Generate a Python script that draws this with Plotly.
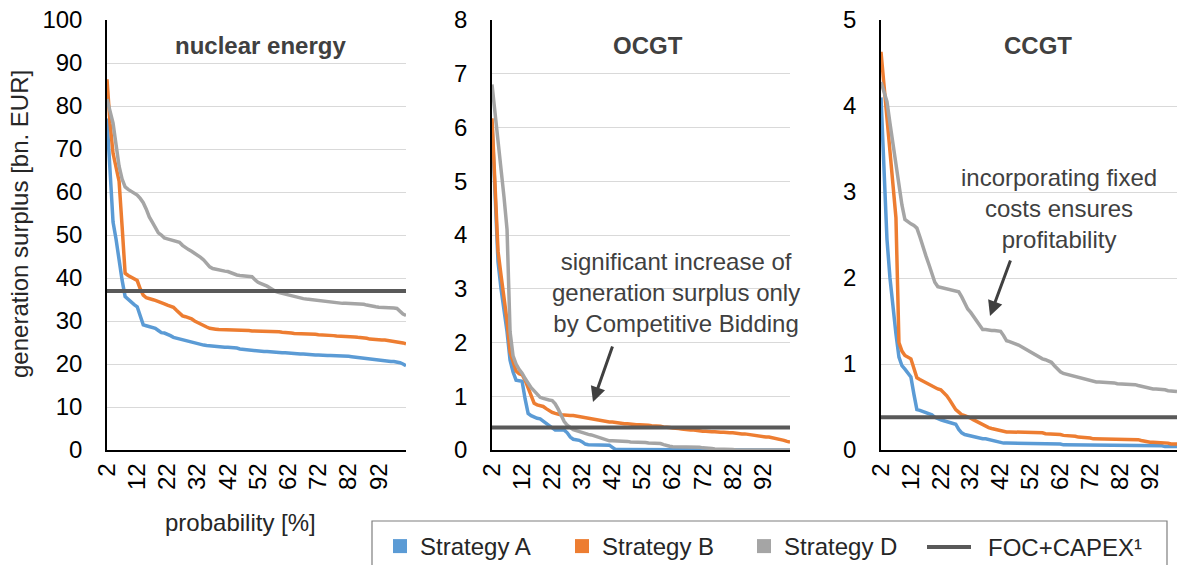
import plotly.graph_objects as go

# ---------------- data ----------------
probability = list(range(2, 102))
tick_vals = list(range(2, 93, 10))
tick_text = [str(v) for v in tick_vals]

series_names = ["Strategy A", "Strategy B", "Strategy D"]
foc_name = "FOC+CAPEX¹"
panel_titles = ["nuclear energy", "OCGT", "CCGT"]
foc_capex = [37.0, 0.42, 0.38]
y_max = [100, 8, 5]
y_step = [10, 1, 1]

nuclear_a = [
    77.1, 64.0, 53.0, 49.0, 44.0, 39.5, 35.7, 35.0, 34.4, 33.8,
    33.3, 31.0, 29.1, 28.9, 28.7, 28.5, 28.3, 27.8, 27.3, 27.2,
    27.0, 26.6, 26.2, 26.0, 25.9, 25.8, 25.5, 25.2, 25.0, 24.8,
    24.6, 24.5, 24.4, 24.3, 24.2, 24.1, 24.1, 24.0, 24.0, 23.9,
    23.9, 23.9, 23.8, 23.7, 23.5, 23.4, 23.3, 23.3, 23.2, 23.2,
    23.1, 23.0, 22.9, 22.9, 22.8, 22.8, 22.7, 22.7, 22.6, 22.6,
    22.5, 22.5, 22.4, 22.4, 22.3, 22.3, 22.2, 22.2, 22.1, 22.1,
    22.1, 22.0, 22.0, 22.0, 22.0, 22.0, 21.9, 21.9, 21.9, 21.9,
    21.8, 21.7, 21.6, 21.5, 21.4, 21.4, 21.3, 21.2, 21.1, 21.0,
    20.9, 20.9, 20.8, 20.7, 20.6, 20.6, 20.5, 20.3, 20.0, 19.6,
]
nuclear_b = [
    86.2, 76.0, 69.0, 65.5, 62.5, 52.0, 41.1, 40.6, 40.2, 39.8,
    39.4, 37.5, 36.0, 35.4, 35.1, 35.0, 34.8, 34.6, 34.3, 34.0,
    33.7, 33.4, 33.2, 32.5, 31.8, 31.2, 31.0, 30.8, 30.5, 30.0,
    29.6, 29.2, 28.9, 28.6, 28.3, 28.1, 28.1, 28.0, 28.0, 28.0,
    27.9, 27.9, 27.9, 27.9, 27.8, 27.8, 27.8, 27.8, 27.7, 27.7,
    27.7, 27.6, 27.6, 27.6, 27.5, 27.5, 27.5, 27.5, 27.4, 27.4,
    27.3, 27.2, 27.1, 27.1, 27.0, 27.0, 27.0, 26.9, 26.9, 26.9,
    26.8, 26.8, 26.7, 26.7, 26.6, 26.6, 26.5, 26.5, 26.4, 26.4,
    26.3, 26.3, 26.3, 26.2, 26.2, 26.2, 26.0, 25.8, 25.7, 25.7,
    25.6, 25.6, 25.6, 25.5, 25.5, 25.4, 25.3, 25.1, 24.9, 24.7,
]
nuclear_d = [
    81.6, 79.0, 76.0, 71.0, 66.0, 63.0, 61.2, 60.6, 60.1, 59.7,
    59.3, 58.5, 57.5, 56.0, 54.2, 53.0, 51.8, 50.5, 50.0, 49.3,
    49.1, 48.9, 48.7, 48.5, 48.3, 47.6, 47.0, 46.6, 46.2, 45.8,
    45.4, 44.8, 44.2, 43.4, 42.6, 42.2, 42.0, 41.8, 41.7, 41.6,
    41.5, 41.2, 40.9, 40.7, 40.6, 40.5, 40.4, 40.4, 40.3, 39.6,
    39.0, 38.7, 38.5, 38.1, 37.7, 37.2, 36.8, 36.6, 36.4, 36.2,
    36.0, 35.8, 35.6, 35.4, 35.3, 35.2, 35.1, 35.0, 34.9, 34.8,
    34.7, 34.6, 34.5, 34.4, 34.3, 34.3, 34.2, 34.2, 34.1, 34.1,
    34.1, 34.0, 34.0, 34.0, 33.9, 33.9, 33.7, 33.5, 33.3, 33.3,
    33.2, 33.2, 33.1, 33.1, 33.0, 33.0, 32.9, 32.3, 31.6, 31.3,
]

ocgt_a = [
    6.10, 4.60, 3.50, 3.00, 2.60, 2.20, 1.67, 1.45, 1.30, 1.29,
    1.28, 0.95, 0.68, 0.64, 0.61, 0.59, 0.58, 0.54, 0.49, 0.46,
    0.42, 0.37, 0.37, 0.37, 0.37, 0.32, 0.24, 0.20, 0.19, 0.18,
    0.15, 0.11, 0.10, 0.10, 0.10, 0.09, 0.09, 0.09, 0.09, 0.09,
    0.05, 0.01, 0.01, 0.01, 0.01, 0.01, 0.01, 0.01, 0.01, 0.01,
    0.01, 0.01, 0.01, 0.01, 0.01, 0.01, 0.01, 0.01, 0.01, 0.01,
    0.01, 0.01, 0.01, 0.01, 0.01, 0.01, 0.01, 0.01, 0.01, 0.01,
    0.01, 0.01, 0.01, 0.01, 0.01, 0.00, 0.00, 0.00, 0.00, 0.00,
    0.00, 0.00, 0.00, 0.00, 0.00, 0.00, 0.00, 0.00, 0.00, 0.00,
    0.00, 0.00, 0.00, 0.00, 0.00, 0.00, 0.00, 0.00, 0.00, 0.00,
]
ocgt_b = [
    6.17, 4.90, 3.70, 3.25, 2.85, 2.40, 1.82, 1.65, 1.47, 1.42,
    1.40, 1.30, 1.15, 1.00, 0.87, 0.84, 0.83, 0.81, 0.77, 0.73,
    0.70, 0.68, 0.66, 0.65, 0.65, 0.64, 0.64, 0.64, 0.63, 0.61,
    0.60, 0.59, 0.59, 0.58, 0.57, 0.56, 0.55, 0.54, 0.53, 0.52,
    0.52, 0.51, 0.50, 0.50, 0.49, 0.49, 0.48, 0.48, 0.47, 0.47,
    0.47, 0.46, 0.46, 0.45, 0.45, 0.45, 0.44, 0.43, 0.43, 0.42,
    0.41, 0.41, 0.40, 0.39, 0.38, 0.38, 0.37, 0.37, 0.36, 0.36,
    0.35, 0.35, 0.34, 0.34, 0.34, 0.33, 0.33, 0.33, 0.32, 0.32,
    0.32, 0.31, 0.31, 0.30, 0.30, 0.29, 0.28, 0.27, 0.26, 0.25,
    0.24, 0.24, 0.24, 0.23, 0.22, 0.21, 0.20, 0.18, 0.16, 0.15,
]
ocgt_d = [
    6.80, 6.30, 5.80, 5.20, 4.70, 4.10, 2.20, 1.75, 1.60, 1.50,
    1.43, 1.33, 1.24, 1.16, 1.10, 1.03, 0.98, 0.96, 0.94, 0.93,
    0.92, 0.86, 0.76, 0.64, 0.53, 0.46, 0.41, 0.38, 0.36, 0.34,
    0.32, 0.31, 0.29, 0.28, 0.26, 0.24, 0.22, 0.20, 0.18, 0.17,
    0.17, 0.17, 0.17, 0.17, 0.16, 0.16, 0.15, 0.15, 0.15, 0.14,
    0.14, 0.14, 0.13, 0.13, 0.13, 0.12, 0.12, 0.10, 0.08, 0.07,
    0.06, 0.06, 0.06, 0.05, 0.05, 0.05, 0.05, 0.05, 0.05, 0.05,
    0.04, 0.04, 0.03, 0.03, 0.02, 0.02, 0.01, 0.01, 0.01, 0.01,
    0.01, 0.00, 0.00, 0.00, 0.00, 0.00, 0.00, 0.00, 0.00, 0.00,
    0.00, 0.00, 0.00, 0.00, 0.00, 0.00, 0.00, 0.00, 0.00, 0.00,
]

ccgt_a = [
    4.10, 3.25, 2.45, 2.00, 1.65, 1.35, 1.08, 0.98, 0.94, 0.89,
    0.85, 0.65, 0.47, 0.46, 0.45, 0.44, 0.43, 0.41, 0.38, 0.36,
    0.35, 0.34, 0.33, 0.33, 0.32, 0.30, 0.24, 0.20, 0.18, 0.17,
    0.16, 0.16, 0.15, 0.14, 0.13, 0.13, 0.12, 0.12, 0.11, 0.10,
    0.09, 0.08, 0.08, 0.08, 0.07, 0.07, 0.07, 0.07, 0.07, 0.07,
    0.07, 0.07, 0.07, 0.07, 0.07, 0.07, 0.07, 0.07, 0.07, 0.07,
    0.07, 0.06, 0.06, 0.06, 0.06, 0.06, 0.06, 0.06, 0.06, 0.06,
    0.06, 0.06, 0.06, 0.06, 0.06, 0.06, 0.06, 0.06, 0.06, 0.06,
    0.06, 0.05, 0.05, 0.05, 0.05, 0.05, 0.05, 0.05, 0.05, 0.05,
    0.05, 0.05, 0.05, 0.05, 0.05, 0.04, 0.04, 0.04, 0.04, 0.04,
]
ccgt_b = [
    4.63, 4.25, 3.85, 3.45, 3.00, 2.70, 1.25, 1.15, 1.10, 1.08,
    1.06, 0.95, 0.84, 0.82, 0.80, 0.78, 0.76, 0.74, 0.72, 0.71,
    0.70, 0.67, 0.63, 0.58, 0.52, 0.47, 0.44, 0.41, 0.40, 0.39,
    0.37, 0.35, 0.33, 0.31, 0.29, 0.27, 0.26, 0.25, 0.24, 0.23,
    0.22, 0.22, 0.21, 0.21, 0.21, 0.21, 0.21, 0.21, 0.21, 0.20,
    0.20, 0.20, 0.20, 0.20, 0.20, 0.19, 0.19, 0.19, 0.18, 0.18,
    0.18, 0.17, 0.17, 0.16, 0.16, 0.16, 0.15, 0.15, 0.15, 0.14,
    0.14, 0.13, 0.13, 0.13, 0.13, 0.13, 0.13, 0.12, 0.12, 0.12,
    0.12, 0.12, 0.12, 0.12, 0.12, 0.12, 0.12, 0.11, 0.10, 0.09,
    0.09, 0.09, 0.09, 0.08, 0.08, 0.08, 0.08, 0.07, 0.07, 0.07,
]
ccgt_d = [
    4.28, 4.17, 4.05, 3.80, 3.55, 3.30, 3.05, 2.85, 2.68, 2.65,
    2.63, 2.61, 2.58, 2.48, 2.36, 2.26, 2.16, 2.05, 1.95, 1.90,
    1.89, 1.88, 1.87, 1.86, 1.85, 1.85, 1.84, 1.78, 1.70, 1.64,
    1.60, 1.55, 1.50, 1.45, 1.40, 1.40, 1.39, 1.39, 1.39, 1.39,
    1.38, 1.33, 1.27, 1.26, 1.25, 1.24, 1.22, 1.20, 1.18, 1.16,
    1.14, 1.12, 1.09, 1.07, 1.06, 1.05, 1.04, 1.02, 0.98, 0.94,
    0.91, 0.89, 0.88, 0.87, 0.86, 0.85, 0.84, 0.83, 0.82, 0.81,
    0.80, 0.80, 0.79, 0.79, 0.79, 0.78, 0.78, 0.78, 0.78, 0.77,
    0.77, 0.77, 0.76, 0.76, 0.76, 0.76, 0.75, 0.74, 0.73, 0.72,
    0.72, 0.71, 0.71, 0.71, 0.70, 0.70, 0.69, 0.69, 0.68, 0.68,
]

panels = [
    [nuclear_a, nuclear_b, nuclear_d],
    [ocgt_a, ocgt_b, ocgt_d],
    [ccgt_a, ccgt_b, ccgt_d],
]

# ---------------- styling ----------------
W, H = 1177, 565
colors = ["#5B9BD5", "#ED7D31", "#A5A5A5"]
foc_color = "#595959"
FONT = "Liberation Sans, Arial, sans-serif"
FS = 24


def px(x):
    return x / W


def py(y):
    return 1 - y / H


x_domains = [[px(107), px(406)], [px(492), px(790)], [px(881), 1.0]]
y_domain = [py(450), py(20)]

fig = go.Figure()

for k, series in enumerate(panels):
    xa = "x" if k == 0 else f"x{k + 1}"
    ya = "y" if k == 0 else f"y{k + 1}"
    for s, vals in enumerate(series):
        fig.add_trace(go.Scatter(
            x=probability, y=vals, mode="lines", xaxis=xa, yaxis=ya,
            line=dict(color=colors[s], width=3.5), showlegend=False,
            name=series_names[s],
        ))
    fig.add_trace(go.Scatter(
        x=[probability[0], probability[-1]], y=[foc_capex[k], foc_capex[k]],
        mode="lines", xaxis=xa, yaxis=ya,
        line=dict(color=foc_color, width=4), showlegend=False,
        name=foc_name,
    ))

# legend-only entries (square keys like the reference)
for s in range(3):
    fig.add_trace(go.Scatter(
        x=[None], y=[None], mode="markers", name=series_names[s],
        marker=dict(symbol="square", size=14, color=colors[s]),
    ))

layout = dict(
    width=W, height=H,
    margin=dict(l=0, r=0, t=0, b=0, autoexpand=False),
    paper_bgcolor="white", plot_bgcolor="white",
    font=dict(family=FONT, color="#000000", size=FS),
    showlegend=True,
    legend=dict(
        orientation="h", x=px(380), y=py(524), xanchor="left", yanchor="top",
        font=dict(family=FONT, size=FS, color="#262626"),
        entrywidth=137, entrywidthmode="pixels",
        bgcolor="rgba(0,0,0,0)", borderwidth=0,
    ),
)

for k in range(3):
    xkey = "xaxis" if k == 0 else f"xaxis{k + 1}"
    ykey = "yaxis" if k == 0 else f"yaxis{k + 1}"
    ya = "y" if k == 0 else f"y{k + 1}"
    xa = "x" if k == 0 else f"x{k + 1}"
    layout[xkey] = dict(
        domain=x_domains[k], anchor=ya, range=[probability[0], probability[-1]],
        tickmode="array", tickvals=tick_vals, ticktext=tick_text,
        tickangle=-90, tickfont=dict(size=FS, color="#000000"),
        showgrid=False, zeroline=False, showline=True,
        linecolor="#000000", linewidth=1.5, ticks="",
        ticklabelstandoff=2, automargin=False,
    )
    layout[ykey] = dict(
        domain=y_domain, anchor=xa, range=[0, y_max[k]],
        tickmode="linear", tick0=0, dtick=y_step[k],
        tickfont=dict(size=FS, color="#000000"),
        showgrid=True, gridcolor="#D9D9D9", gridwidth=1,
        zeroline=False, showline=True, linecolor="#000000", linewidth=1.5,
        ticks="", ticklabelstandoff=18, automargin=False,
    )

fig.update_layout(**layout)

title_x = [260, 648, 1038]
annotations = []
for k in range(3):
    annotations.append(dict(
        x=px(title_x[k]), y=py(45), xref="paper", yref="paper",
        text=f"<b>{panel_titles[k]}</b>", showarrow=False,
        font=dict(family=FONT, size=FS, color="#404040"),
        xanchor="center", yanchor="middle",
    ))

annotations += [
    dict(x=px(19), y=py(224), xref="paper", yref="paper",
         text="generation surplus [bn. EUR]", textangle=-90, showarrow=False,
         font=dict(family=FONT, size=FS, color="#262626"),
         xanchor="center", yanchor="middle"),
    dict(x=px(240), y=py(522), xref="paper", yref="paper",
         text="probability [%]", showarrow=False,
         font=dict(family=FONT, size=FS, color="#262626"),
         xanchor="center", yanchor="middle"),
    dict(x=px(676), y=py(292), xref="paper", yref="paper",
         text="significant increase of<br>generation surplus only<br>by Competitive Bidding",
         showarrow=False, align="center",
         font=dict(family=FONT, size=FS, color="#404040"),
         xanchor="center", yanchor="middle"),
    dict(x=px(1059), y=py(209), xref="paper", yref="paper",
         text="incorporating fixed<br>costs ensures<br>profitability",
         showarrow=False, align="center",
         font=dict(family=FONT, size=FS, color="#404040"),
         xanchor="center", yanchor="middle"),
    # arrows
    dict(x=px(593), y=py(402), xref="paper", yref="paper", text="",
         showarrow=True, ax=20, ay=-57, axref="pixel", ayref="pixel",
         arrowhead=2, arrowsize=1, arrowwidth=3, arrowcolor="#404040"),
    dict(x=px(990), y=py(316), xref="paper", yref="paper", text="",
         showarrow=True, ax=21, ay=-57, axref="pixel", ayref="pixel",
         arrowhead=2, arrowsize=1, arrowwidth=3, arrowcolor="#404040"),
    # legend key text for the FOC+CAPEX line
    dict(x=px(986), y=py(547), xref="paper", yref="paper",
         text=foc_name, showarrow=False,
         font=dict(family=FONT, size=FS, color="#262626"),
         xanchor="left", yanchor="middle"),
]

shapes = [
    # legend frame
    dict(type="rect", xref="paper", yref="paper",
         x0=px(372), x1=px(1167), y0=py(600), y1=py(521),
         line=dict(color="#7F7F7F", width=1.2), fillcolor="rgba(0,0,0,0)"),
    # legend key line for FOC+CAPEX
    dict(type="line", xref="paper", yref="paper",
         x0=px(927), x1=px(971), y0=py(547), y1=py(547),
         line=dict(color=foc_color, width=4)),
]

fig.update_layout(annotations=annotations, shapes=shapes)

fig.write_html(
    "out.html",
    config={"displayModeBar": False},
    post_script="document.body.style.margin='0px';document.body.style.overflow='hidden';",
)
